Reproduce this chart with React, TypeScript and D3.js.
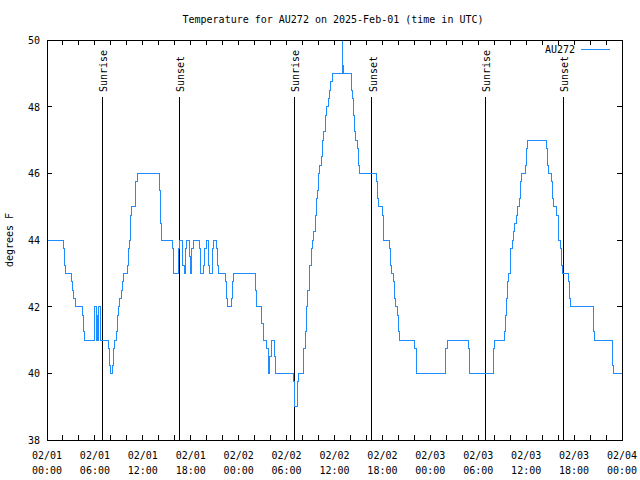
import React from "react";
import * as d3 from "d3";

// Step data: hour offset from 2025-02-01 00:00 UTC, temperature (F) starting at that hour
const hours = [
  0, 2.05, 2.17, 2.34, 3.09, 3.21, 3.38, 3.51, 4.42, 4.55, 4.67,
  6.01, 6.14, 6.3, 6.39, 6.51, 6.64,
  7.68, 7.8, 7.93, 8.22, 8.35, 8.47, 8.72, 8.85, 8.97, 9.14, 9.31, 9.43, 9.56,
  10.06, 10.18, 10.31, 10.48, 10.6, 11.02, 11.14, 11.27,
  14.07, 14.19, 14.32, 15.69, 15.82, 16.45, 16.57, 16.95, 17.2, 17.36, 17.49,
  17.82, 17.99, 18.12, 18.32, 19.07, 19.28, 19.62, 19.78, 19.91, 20.2, 20.41,
  20.75, 20.91, 21.2, 21.37, 21.45, 22.29, 22.5, 22.62, 23.12, 23.25, 23.37,
  26.13, 26.25, 26.88, 27.05, 27.51, 27.75, 27.9, 28.1, 28.45, 28.6,
  30.84, 30.97, 31.05, 31.35, 31.51,
  32.18, 32.39, 32.51, 32.68, 32.81, 32.93, 33.1, 33.27, 33.39, 33.56, 33.73,
  33.89, 34.02, 34.18, 34.35, 34.48, 34.64, 34.85, 35.02, 35.23, 35.4, 35.56, 35.77,
  36.94, 37.06, 37.15,
  38.07, 38.23, 38.36, 38.48, 38.65, 38.86, 38.99, 39.11,
  41.2, 41.36, 41.49, 41.99, 42.11, 42.86, 42.95, 43.16, 43.37, 43.49, 43.58,
  43.87, 43.99, 44.12, 45.96, 46.21, 46.29,
  49.96, 50.13, 52.76, 52.9, 55.89, 56.02,
  57.27, 57.39, 57.56, 57.68, 57.81, 57.98, 58.1, 58.27, 58.39, 58.56, 58.73,
  58.89, 59.15, 59.27, 59.44, 59.9, 60.02, 60.19,
  62.57, 62.69, 62.82, 63.15, 63.28, 63.4, 63.86, 63.99, 64.11, 64.32, 64.45, 64.57,
  65.28, 65.4, 65.53, 68.45, 68.58, 70.79, 70.92, 72,
];
const temps = [
  44, 43.75, 43.25, 43, 42.75, 42.5, 42.25, 42, 41.75, 41.25, 41,
  42, 41, 41.75, 41, 42, 41,
  40.75, 40.25, 40, 40.25, 40.75, 41, 41.25, 41.75, 42, 42.25, 42.5, 42.75, 43,
  43.25, 43.75, 44, 44.75, 45, 45.25, 45.75, 46,
  45.5, 44.5, 44, 43.75, 43, 43.75, 44, 43.25, 43, 43.75, 44,
  43.5, 43, 43.75, 44, 43.75, 43, 43.25, 43.75, 44, 43.25, 43,
  43.75, 44, 43.75, 43.25, 43, 42.75, 42.25, 42, 42.25, 42.75, 43,
  42.5, 42, 41.5, 41, 40.75, 40, 40.5, 41, 40.5, 40,
  39.75, 39.25, 39, 39.75, 40,
  40.75, 41.25, 42, 42.5, 43, 43.25, 43.75, 44, 44.25, 44.75, 45.25,
  45.5, 46, 46.25, 46.5, 47, 47.25, 47.75, 48, 48.25, 48.5, 48.75, 49,
  50, 49.25, 49,
  48.5, 48.25, 47.75, 47.25, 47, 46.75, 46.25, 46,
  45.75, 45.25, 45, 44.75, 44, 43.75, 43.25, 43, 42.75, 42.25, 42,
  41.75, 41.25, 41, 40.75, 40.25, 40,
  40.75, 41, 40.75, 40, 40.75, 41,
  41.25, 41.75, 42.25, 42.75, 43, 43.25, 43.75, 44, 44.25, 44.5, 44.75,
  45, 45.25, 45.75, 46, 46.25, 46.75, 47,
  46.75, 46.25, 46, 45.75, 45.25, 45, 44.75, 44.25, 44, 43.75, 43.25, 43,
  42.75, 42.25, 42, 41.25, 41, 40.25, 40, 40,
];

const sunriseHours = [6.89, 30.97, 54.88];
const sunsetHours = [16.57, 40.66, 64.65];

const xTickHours = [0, 6, 12, 18, 24, 30, 36, 42, 48, 54, 60, 66, 72];
const xTickDates = ["02/01", "02/01", "02/01", "02/01", "02/02", "02/02", "02/02", "02/02", "02/03", "02/03", "02/03", "02/03", "02/04"];
const xTickTimes = ["00:00", "06:00", "12:00", "18:00", "00:00", "06:00", "12:00", "18:00", "00:00", "06:00", "12:00", "18:00", "00:00"];
const yTicks = [38, 40, 42, 44, 46, 48, 50];

const titleText = "Temperature for AU272 on 2025-Feb-01 (time in UTC)";
const yLabel = "degrees F";
const seriesName = "AU272";

const FONT = "'DejaVu Sans Mono', monospace";
const BLUE = "#1c8cff";

export default function App() {
  const W = 640, H = 480;
  const L = 47, R = 622, T = 40, B = 440;
  const x = d3.scaleLinear().domain([0, 72]).range([L, R]);
  const y = d3.scaleLinear().domain([38, 50]).range([B, T]);
  const data: [number, number][] = hours.map((h, i) => [h, temps[i]]);
  const line = d3
    .line<[number, number]>()
    .x((d) => x(d[0]))
    .y((d) => y(d[1]))
    .curve(d3.curveStepAfter);
  const minorTicks = d3.range(0, 73, 2);
  const tl = 5;

  return (
    <svg
      width={W}
      height={H}
      style={{ position: "absolute", left: 0, top: 0, background: "#fff" }}
      fontFamily={FONT}
      fontSize={10}
    >
      <rect x={0} y={0} width={W} height={H} fill="#fff" />
      <text x={333} y={23} textAnchor="middle" fill="#000">{titleText}</text>

      {/* x ticks */}
      {minorTicks.map((h) => (
        <g key={"xt" + h} stroke="#000" shapeRendering="crispEdges">
          <line x1={x(h)} x2={x(h)} y1={B} y2={B - tl} />
          <line x1={x(h)} x2={x(h)} y1={T} y2={T + tl} />
        </g>
      ))}
      {xTickHours.map((h, i) => (
        <g key={"xl" + h}>
          <text x={x(h)} y={459} textAnchor="middle" fill="#000">{xTickDates[i]}</text>
          <text x={x(h)} y={474} textAnchor="middle" fill="#000">{xTickTimes[i]}</text>
        </g>
      ))}

      {/* y ticks */}
      {yTicks.map((v) => (
        <g key={"yt" + v}>
          <line x1={L} x2={L + tl} y1={y(v)} y2={y(v)} stroke="#000" shapeRendering="crispEdges" />
          <line x1={R} x2={R - tl} y1={y(v)} y2={y(v)} stroke="#000" shapeRendering="crispEdges" />
          <text x={40} y={y(v) + 4} textAnchor="end" fill="#000">{v}</text>
        </g>
      ))}

      <text
        transform={`translate(13,240) rotate(-90)`}
        textAnchor="middle"
        fill="#000"
      >
        {yLabel}
      </text>

      {/* sunrise / sunset */}
      {sunriseHours.map((h) => (
        <g key={"sr" + h}>
          <line x1={x(h)} x2={x(h)} y1={97} y2={B} stroke="#000" shapeRendering="crispEdges" />
          <text transform={`translate(${x(h) + 5},92) rotate(-90)`} textAnchor="start" fill="#000">Sunrise</text>
        </g>
      ))}
      {sunsetHours.map((h) => (
        <g key={"ss" + h}>
          <line x1={x(h)} x2={x(h)} y1={97} y2={B} stroke="#000" shapeRendering="crispEdges" />
          <text transform={`translate(${x(h) + 5},92) rotate(-90)`} textAnchor="start" fill="#000">Sunset</text>
        </g>
      ))}

      {/* data */}
      <path d={line(data) || ""} fill="none" stroke={BLUE} strokeWidth={1} shapeRendering="crispEdges" />

      {/* legend */}
      <text x={575} y={53} textAnchor="end" fill="#000">{seriesName}</text>
      <line x1={581} x2={610} y1={49} y2={49} stroke={BLUE} shapeRendering="crispEdges" />

      {/* frame */}
      <rect x={L} y={T} width={R - L} height={B - T} fill="none" stroke="#000" shapeRendering="crispEdges" />
    </svg>
  );
}
